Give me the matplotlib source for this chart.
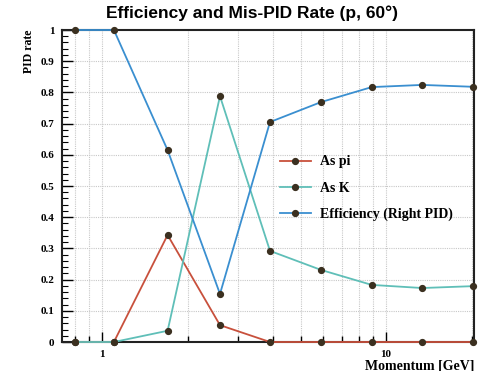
import matplotlib
matplotlib.use("Agg")
import matplotlib.pyplot as plt
from matplotlib.ticker import FixedLocator, NullFormatter
import numpy as np

momentum = [0.8, 1.1, 1.7, 2.6, 3.9, 5.9, 8.9, 13.4, 20.2]
as_pi = [0.0, 0.0, 0.343, 0.054, 0.0, 0.0, 0.0, 0.0, 0.0]
as_k = [0.0, 0.0, 0.036, 0.788, 0.292, 0.231, 0.183, 0.173, 0.179]
efficiency = [1.0, 1.0, 0.615, 0.154, 0.705, 0.769, 0.817, 0.824, 0.818]

series = [("As pi", as_pi, "#c8503c"),
          ("As K", as_k, "#5fbfb8"),
          ("Efficiency (Right PID)", efficiency, "#3a8fd0")]

serif = ["Liberation Serif", "DejaVu Serif"]
sans = ["Liberation Sans", "DejaVu Sans"]

fig = plt.figure(figsize=(4.79, 3.71), dpi=100)
ax = fig.add_axes([62/479, 1-342/371, (474-62)/479, (342-30)/371])
ax.set_xscale("log")
ax.set_xlim(0.722, 20.4)
ax.set_ylim(0, 1)

for name, vals, col in series:
    ax.plot(momentum, vals, color=col, lw=1.3, marker="o", ms=4.2,
            mfc="#3b3020", mec="#3b3020", label=name, zorder=3, clip_on=False)

# grid
xgrid = [0.8, 0.9, 1, 2, 3, 4, 5, 6, 7, 8, 9, 10, 20]
for xv in xgrid:
    ax.axvline(xv, color="#c8c8c8", lw=0.8, ls=(0, (1, 1)), zorder=1)
for yv in np.arange(0.1, 1.0, 0.1):
    ax.axhline(yv, color="#c8c8c8", lw=0.8, ls=(0, (1, 1)), zorder=1)

ax.xaxis.set_major_locator(FixedLocator([1, 10]))
ax.xaxis.set_minor_locator(FixedLocator([0.8, 0.9, 2, 3, 4, 5, 6, 7, 8, 9, 20]))
ax.xaxis.set_minor_formatter(NullFormatter())
ax.set_xticklabels(["1", "10"], fontfamily=serif, fontweight="bold", fontsize=8)
ax.yaxis.set_major_locator(FixedLocator(np.round(np.arange(0, 1.01, 0.1), 1)))
ax.yaxis.set_minor_locator(FixedLocator(np.round(np.arange(0, 1.001, 0.02), 2)))
ax.set_yticklabels(["0", "0.1", "0.2", "0.3", "0.4", "0.5", "0.6", "0.7", "0.8", "0.9", "1"],
                   fontfamily=serif, fontweight="bold", fontsize=8)
ax.tick_params(axis="both", which="both", direction="in", top=False, right=False)
ax.tick_params(axis="x", which="major", length=7, width=1, pad=6)
ax.tick_params(axis="x", which="minor", length=4, width=1)
ax.tick_params(axis="y", which="major", length=8, width=1, pad=5.5)
ax.tick_params(axis="y", which="minor", length=4, width=0.8)
for s in ax.spines.values():
    s.set_linewidth(1.5)
    s.set_color("#222222")

fig.text(252/479, 1-13/371, "Efficiency and Mis-PID Rate (p, 60°)", ha="center", va="center",
         fontfamily=sans, fontweight="bold", fontsize=12.5)
ax.set_ylabel("PID rate", fontfamily=serif, fontweight="bold", fontsize=8.5)
ax.yaxis.set_label_coords(-0.066, 1.0)
ax.yaxis.label.set_ha("right")
ax.set_xlabel("Momentum [GeV]", fontfamily=serif, fontweight="bold", fontsize=10)
ax.xaxis.set_label_coords(1.0, -0.055)
ax.xaxis.label.set_ha("right")

ax.legend(loc="upper left", bbox_to_anchor=((267-62)/412, (342-143)/312), frameon=False,
          prop={"family": serif, "weight": "bold", "size": 10}, handlelength=2.3,
          labelspacing=0.95, handletextpad=0.6)

fig.savefig("out.png", dpi=100)
